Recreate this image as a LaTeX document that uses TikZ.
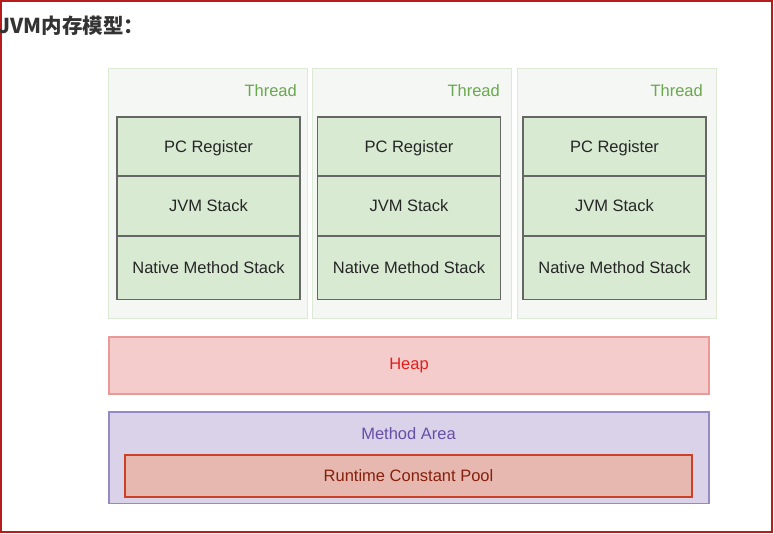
\documentclass[tikz,border=0pt]{standalone}
\usepackage{fontspec}
\setmainfont{Liberation Sans}
\newfontfamily\cjkfont{Noto Sans CJK SC}
\usetikzlibrary{positioning}

\definecolor{frameline}{HTML}{B71C1C}
\definecolor{titlegrey}{HTML}{333333}
\definecolor{threadfill}{HTML}{F4F7F3}
\definecolor{threadline}{HTML}{DCE9D5}
\definecolor{threadtext}{HTML}{6AA84F}
\definecolor{stackfill}{HTML}{D9EAD3}
\definecolor{stackline}{HTML}{666666}
\definecolor{heapfill}{HTML}{F4CCCC}
\definecolor{heapline}{HTML}{EA9999}
\definecolor{heaptext}{HTML}{E0201B}
\definecolor{areafill}{HTML}{D9D2E9}
\definecolor{arealine}{HTML}{968AC4}
\definecolor{areatext}{HTML}{674EA7}
\definecolor{poolfill}{HTML}{E6B8AF}
\definecolor{poolline}{HTML}{CC4125}
\definecolor{pooltext}{HTML}{85200C}

\tikzset{
  box/.style={rectangle, inner sep=0pt, outer sep=0pt, anchor=north west,
    font=\fontsize{16.5}{19}\selectfont},
  threadbox/.style={box, draw=threadline, fill=threadfill, line width=1pt,
    minimum width=199pt, minimum height=250pt},
  stackbox/.style={box, draw=stackline, fill=stackfill, line width=1.6pt,
    minimum width=183pt, text=black!85, text depth=0pt},
  threadlabel/.style={inner sep=0pt, anchor=east, text=threadtext,
    font=\fontsize{16.5}{19}\selectfont},
}

\begin{document}
\begin{tikzpicture}[x=1pt,y=-1pt]
  \useasboundingbox (0,0) rectangle (774,534);

  % Page frame and title
  \draw[frameline, line width=1.5pt] (1,1) rectangle (772,532);
  \node[anchor=west, inner sep=0pt, text=titlegrey,
    font=\cjkfont\bfseries\fontsize{20.5}{23}\selectfont] (title) at (-1.5,26) {JVM内存模型：};

  % Three threads
  \node[threadbox] (thread1) at (108,69) {};
  \node[threadbox] (thread2) at (312.5,69) {};
  \node[threadbox] (thread3) at (517,69) {};

  \node[threadlabel] (tlabel1) at (297,91) {Thread};
  \node[threadlabel] (tlabel2) at (500,91) {Thread};
  \node[threadlabel] (tlabel3) at (703,91) {Thread};

  % Stacks inside each thread
  \node[stackbox, minimum height=59pt] (pc1) at (117,117) {PC Register};
  \node[stackbox, minimum height=60pt, below=0pt of pc1] (jvm1) {JVM Stack};
  \node[stackbox, minimum height=63.5pt, below=0pt of jvm1] (native1) {Native Method Stack};

  \node[stackbox, minimum height=59pt] (pc2) at (317.5,117) {PC Register};
  \node[stackbox, minimum height=60pt, below=0pt of pc2] (jvm2) {JVM Stack};
  \node[stackbox, minimum height=63.5pt, below=0pt of jvm2] (native2) {Native Method Stack};

  \node[stackbox, minimum height=59pt] (pc3) at (523,117) {PC Register};
  \node[stackbox, minimum height=60pt, below=0pt of pc3] (jvm3) {JVM Stack};
  \node[stackbox, minimum height=63.5pt, below=0pt of jvm3] (native3) {Native Method Stack};

  % Heap
  \node[box, draw=heapline, fill=heapfill, line width=1.3pt, text=heaptext,
    minimum width=600pt, minimum height=57pt] (heap) at (109,337) {Heap};

  % Method area with runtime constant pool
  \node[box, draw=arealine, fill=areafill, line width=1.5pt,
    minimum width=600pt, minimum height=91.5pt] (area) at (109,412) {};
  \node[inner sep=0pt, text=areatext, font=\fontsize{16.5}{19}\selectfont]
    (arealabel) at (408.5,434) {Method Area};
  \node[box, draw=poolline, fill=poolfill, line width=1.6pt, text=pooltext,
    minimum width=567pt, minimum height=42pt] (pool) at (125,455) {Runtime Constant Pool};
\end{tikzpicture}
\end{document}
